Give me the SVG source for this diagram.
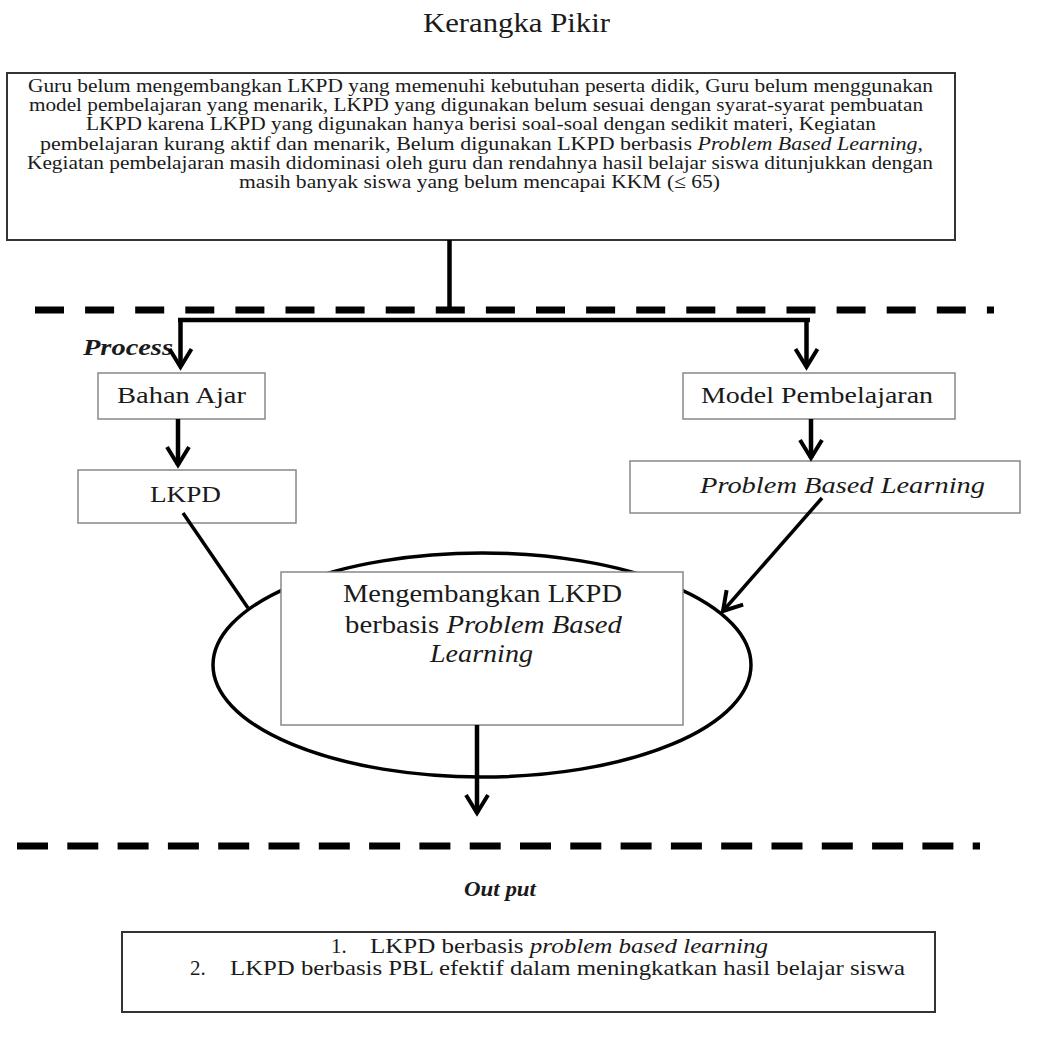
<svg xmlns="http://www.w3.org/2000/svg" width="1052" height="1048" viewBox="0 0 1052 1048">
<style>
  text { font-family: "Liberation Serif", "Times New Roman", serif; fill: #1a1a1a; }
  .t18 { font-size: 19px; }
  .t24 { font-size: 24px; }
  .it { font-style: italic; }
  .bi { font-style: italic; font-weight: bold; }
  .box { fill: #fff; stroke: #888; stroke-width: 1.5; }
  .dbox { fill: #fff; stroke: #333; stroke-width: 2; }
  .dash { stroke: #000; stroke-width: 7; fill: none; }
  .con { stroke: #000; stroke-width: 4.5; fill: none; }
  .thin { stroke: #000; stroke-width: 3.5; fill: none; }
</style>
<defs>
  <marker id="arr" markerUnits="userSpaceOnUse" orient="auto" refX="0" refY="0" markerWidth="40" markerHeight="40" overflow="visible">
    <path d="M-18,-11 L0,0 L-18,11" fill="none" stroke="#000" stroke-width="4" stroke-linejoin="miter"/>
  </marker>
</defs>
<rect width="1052" height="1048" fill="#fff"/>

<text id="title" x="423" y="32" font-size="28" textLength="187" lengthAdjust="spacingAndGlyphs">Kerangka Pikir</text>

<g id="problem">
  <rect class="dbox" x="7" y="73" width="948" height="167"/>
  <text class="t18" x="28" y="92" textLength="905" lengthAdjust="spacingAndGlyphs">Guru belum mengembangkan LKPD yang memenuhi kebutuhan peserta didik, Guru belum menggunakan</text>
  <text class="t18" x="29" y="111" textLength="894" lengthAdjust="spacingAndGlyphs">model pembelajaran yang menarik, LKPD yang digunakan belum sesuai dengan syarat-syarat pembuatan</text>
  <text class="t18" x="86" y="130" textLength="790" lengthAdjust="spacingAndGlyphs">LKPD karena LKPD yang digunakan hanya berisi soal-soal dengan sedikit materi, Kegiatan</text>
  <text class="t18" x="40" y="149.5" textLength="883" lengthAdjust="spacingAndGlyphs">pembelajaran kurang aktif dan menarik, Belum digunakan LKPD berbasis <tspan class="it">Problem Based Learning</tspan>,</text>
  <text class="t18" x="27" y="169" textLength="906" lengthAdjust="spacingAndGlyphs">Kegiatan pembelajaran masih didominasi oleh guru dan rendahnya hasil belajar siswa ditunjukkan dengan</text>
  <text class="t18" x="239" y="188" textLength="481" lengthAdjust="spacingAndGlyphs">masih banyak siswa yang belum mencapai KKM (≤ 65)</text>
</g>

<g id="dividers">
  <line class="dash" x1="35" y1="310" x2="994" y2="310" stroke-dasharray="29 21.1"/>
  <line class="dash" x1="17" y1="846" x2="980" y2="846" stroke-dasharray="31 19.3"/>
</g>

<text id="process-label" class="bi" x="83" y="355" font-size="24" textLength="90" lengthAdjust="spacingAndGlyphs">Process</text>

<g id="bahan-ajar">
  <rect class="box" x="98" y="373" width="167" height="46"/>
  <text class="t24" x="117" y="403" font-size="23" textLength="129" lengthAdjust="spacingAndGlyphs">Bahan Ajar</text>
</g>

<g id="model-pembelajaran">
  <rect class="box" x="683" y="373" width="272" height="46"/>
  <text class="t24" x="701" y="403" font-size="23" textLength="232" lengthAdjust="spacingAndGlyphs">Model Pembelajaran</text>
</g>

<g id="lkpd">
  <rect class="box" x="78" y="470" width="218" height="53"/>
  <text class="t24" x="150" y="502" textLength="71" lengthAdjust="spacingAndGlyphs">LKPD</text>
</g>

<g id="pbl">
  <rect class="box" x="630" y="461" width="390" height="52"/>
  <text class="t24 it" x="700" y="493" textLength="285" lengthAdjust="spacingAndGlyphs">Problem Based Learning</text>
</g>

<g id="mengembangkan">
  <ellipse cx="482" cy="665" rx="269" ry="112" fill="none" stroke="#000" stroke-width="3.5"/>
  <rect class="box" x="281" y="572" width="402" height="153"/>
  <text x="343" y="602" font-size="25" textLength="279" lengthAdjust="spacingAndGlyphs">Mengembangkan LKPD</text>
  <text x="345" y="633" font-size="25" textLength="277" lengthAdjust="spacingAndGlyphs">berbasis <tspan class="it">Problem Based</tspan></text>
  <text class="it" x="430" y="662" font-size="25" textLength="103" lengthAdjust="spacingAndGlyphs">Learning</text>
</g>

<text id="output-label" class="bi" x="464" y="896" font-size="21" textLength="72" lengthAdjust="spacingAndGlyphs">Out put</text>

<g id="output">
  <rect class="dbox" x="122" y="932" width="813" height="80"/>
  <text x="331" y="953" font-size="21">1.</text>
  <text x="370" y="953" font-size="21" textLength="398" lengthAdjust="spacingAndGlyphs">LKPD berbasis <tspan class="it">problem based learning</tspan></text>
  <text x="190" y="975" font-size="21">2.</text>
  <text x="230" y="975" font-size="21" textLength="675" lengthAdjust="spacingAndGlyphs">LKPD berbasis PBL efektif dalam meningkatkan hasil belajar siswa</text>
</g>

<g id="connectors">
  <path class="con" d="M449.5,240 V310"/>
  <path class="con" d="M180.5,320 V367" marker-end="url(#arr)"/>
  <path class="con" d="M178,320 H810"/>
  <path class="con" d="M806.5,320 V367" marker-end="url(#arr)"/>
  <path class="con" d="M178,419 V465" marker-end="url(#arr)"/>
  <path class="con" d="M811,419 V458" marker-end="url(#arr)"/>
  <path class="thin" d="M183,513 L248,608"/>
  <path class="thin" d="M822,498 L723,611" marker-end="url(#arr)"/>
  <path class="con" d="M477,725 V813" marker-end="url(#arr)"/>
</g>
</svg>
